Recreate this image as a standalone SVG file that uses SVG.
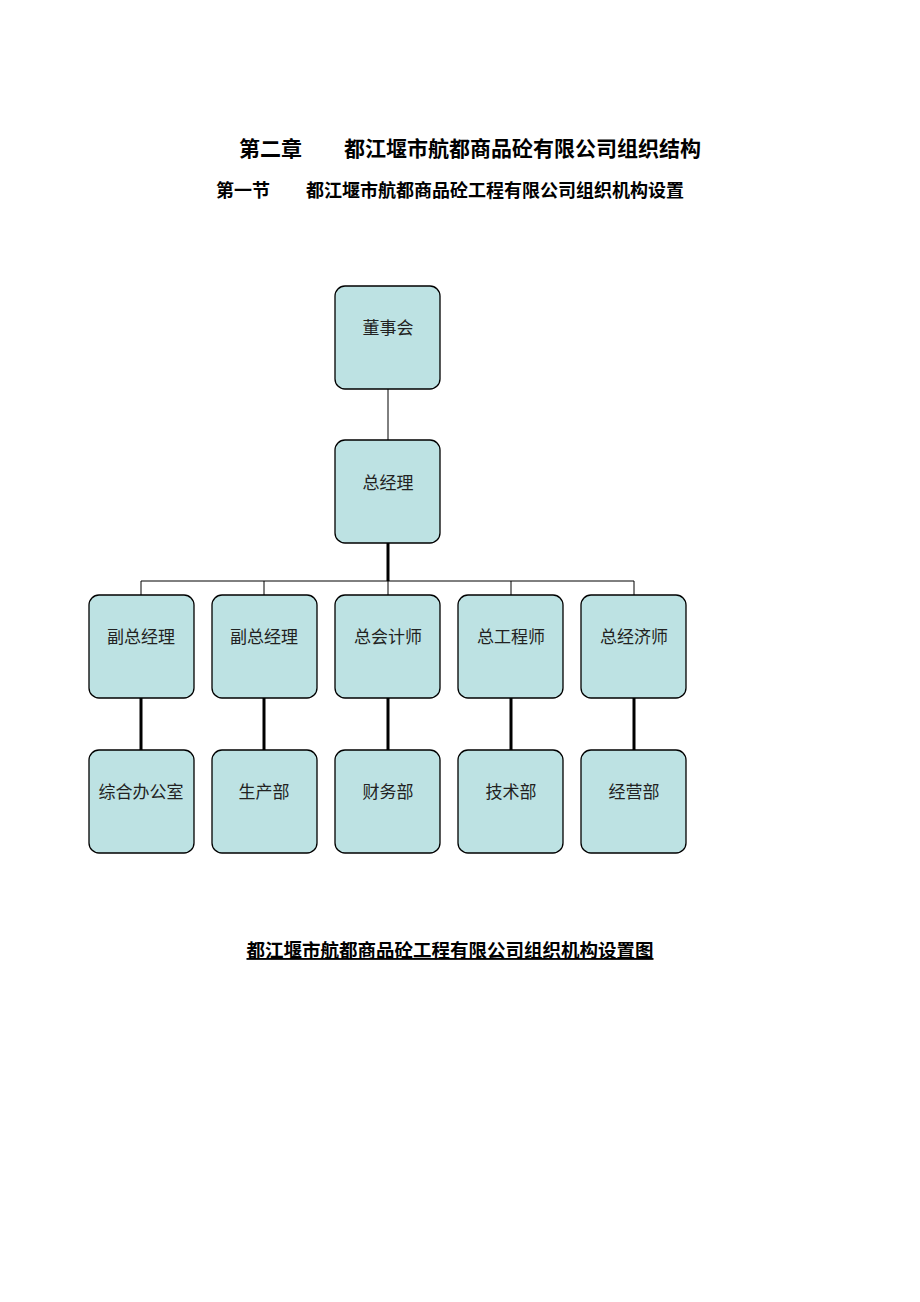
<svg xmlns="http://www.w3.org/2000/svg" width="920" height="1302" viewBox="0 0 920 1302">
<style>
.b{fill:#bde2e3;stroke:#000;stroke-width:1.3}
.t{font-family:"Noto Sans CJK SC",sans-serif;font-size:17px;fill:#222;text-anchor:middle}
.h{font-family:"Noto Sans CJK SC",sans-serif;font-weight:bold;fill:#000;text-anchor:middle}
.thin{stroke:#000;stroke-width:1;fill:none}
.thick{stroke:#000;stroke-width:3;fill:none}
</style>
<rect width="920" height="1302" fill="#fff"/>
<text class="h" x="470" y="156" font-size="21">第二章　　都江堰市航都商品砼有限公司组织结构</text>
<text class="h" x="450" y="197" font-size="18">第一节　　都江堰市航都商品砼工程有限公司组织机构设置</text>
<g id="connectors">
<path class="thin" d="M388 389V440"/>
<path class="thick" d="M388 543V581"/>
<path class="thin" d="M141 581H634M141 581V595M264 581V595M388 581V595M511 581V595M634 581V595"/>
<path class="thick" d="M141 698V750M264 698V750M388 698V750M511 698V750M634 698V750"/>
</g>
<g id="n1"><rect class="b" x="335" y="286" width="105" height="103" rx="10"/><text class="t" x="388" y="334">董事会</text></g>
<g id="n2"><rect class="b" x="335" y="440" width="105" height="103" rx="10"/><text class="t" x="388" y="489">总经理</text></g>
<g id="n3"><rect class="b" x="89" y="595" width="105" height="103" rx="10"/><text class="t" x="141" y="643">副总经理</text></g>
<g id="n4"><rect class="b" x="212" y="595" width="105" height="103" rx="10"/><text class="t" x="264" y="643">副总经理</text></g>
<g id="n5"><rect class="b" x="335" y="595" width="105" height="103" rx="10"/><text class="t" x="388" y="643">总会计师</text></g>
<g id="n6"><rect class="b" x="458" y="595" width="105" height="103" rx="10"/><text class="t" x="511" y="643">总工程师</text></g>
<g id="n7"><rect class="b" x="581" y="595" width="105" height="103" rx="10"/><text class="t" x="634" y="643">总经济师</text></g>
<g id="n8"><rect class="b" x="89" y="750" width="105" height="103" rx="10"/><text class="t" x="141" y="798">综合办公室</text></g>
<g id="n9"><rect class="b" x="212" y="750" width="105" height="103" rx="10"/><text class="t" x="264" y="798">生产部</text></g>
<g id="n10"><rect class="b" x="335" y="750" width="105" height="103" rx="10"/><text class="t" x="388" y="798">财务部</text></g>
<g id="n11"><rect class="b" x="458" y="750" width="105" height="103" rx="10"/><text class="t" x="511" y="798">技术部</text></g>
<g id="n12"><rect class="b" x="581" y="750" width="105" height="103" rx="10"/><text class="t" x="634" y="798">经营部</text></g>
<text class="h" x="450" y="957" font-size="18.5" text-decoration="underline">都江堰市航都商品砼工程有限公司组织机构设置图</text>
</svg>
